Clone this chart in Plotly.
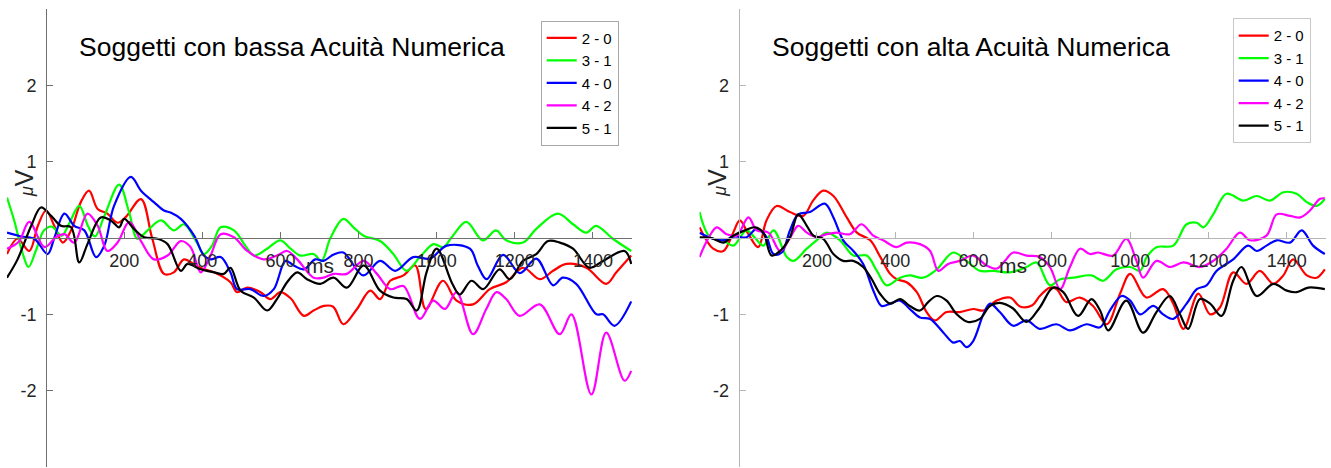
import plotly.graph_objects as go

# ---------------- data (ms, µV) ----------------
NAMES = ["2 - 0", "3 - 1", "4 - 0", "4 - 2", "5 - 1"]
COLORS = ["#ff0000", "#00ff00", "#0000ff", "#ff00ff", "#000000"]
TITLES = ["Soggetti con bassa Acuità Numerica", "Soggetti con alta Acuità Numerica"]
X_TICKS = [200, 400, 600, 800, 1000, 1200, 1400]
Y_TICKS = [-2, -1, 1, 2]

# Left panel (bassa)
L_RED_T = [-100, -73, -43, -21, 0, 21, 43, 64, 89, 110, 132, 157, 183, 205, 243, 272, 302, 327, 353, 380, 400, 430, 472, 489, 515, 549, 574, 600, 626, 660, 685, 711, 735, 761, 796, 830, 855, 881, 915, 945, 972, 1016, 1051, 1093, 1136, 1178, 1221, 1264, 1298, 1332, 1383, 1434, 1460, 1498]
L_RED_V = [-0.21, -0.01, -0.17, 0.16, 0.36, 0.16, -0.06, 0.1, 0.47, 0.62, 0.38, 0.32, 0.2, 0.28, 0.51, -0.01, -0.47, -0.45, -0.28, -0.35, -0.4, -0.45, -0.58, -0.71, -0.65, -0.71, -0.8, -0.71, -0.79, -1.02, -0.95, -0.89, -0.9, -1.13, -0.93, -0.69, -0.8, -0.56, -0.49, -0.36, -0.93, -0.56, -0.82, -0.87, -0.67, -0.58, -0.39, -0.54, -0.43, -0.34, -0.39, -0.6, -0.45, -0.23]

L_GRN_T = [-100, -80, -60, -45, -25, -5, 15, 40, 60, 85, 108, 125, 150, 187, 212, 234, 260, 294, 327, 353, 385, 404, 425, 447, 481, 510, 532, 566, 600, 626, 651, 685, 705, 728, 761, 787, 813, 855, 889, 923, 957, 992, 1017, 1040, 1076, 1118, 1152, 1178, 1221, 1255, 1310, 1349, 1383, 1408, 1451, 1498]
L_GRN_V = [0.53, 0.2, -0.2, -0.38, -0.15, 0.1, 0.15, 0.03, 0.2, 0.42, 0.15, 0.02, 0.3, 0.7, 0.35, -0.01, 0.1, 0.23, 0.1, 0.18, -0.05, -0.21, -0.1, 0.14, 0.1, -0.1, -0.23, -0.14, -0.03, -0.14, -0.23, -0.21, -0.3, 0.0, 0.25, 0.14, 0.03, -0.04, -0.21, -0.43, -0.25, -0.08, -0.12, 0.02, 0.21, -0.03, 0.1, -0.03, -0.06, 0.12, 0.32, 0.18, 0.07, 0.16, -0.01, -0.17]

L_BLU_T = [-100, -64, -30, 4, 21, 47, 72, 98, 128, 149, 174, 217, 243, 276, 302, 320, 345, 379, 404, 421, 447, 472, 489, 523, 557, 583, 613, 634, 660, 689, 710, 735, 761, 812, 855, 894, 940, 983, 1026, 1085, 1105, 1128, 1170, 1213, 1255, 1298, 1323, 1357, 1409, 1426, 1455, 1498]
L_BLU_V = [0.07, 0.02, -0.01, -0.21, 0.0, 0.32, 0.16, 0.1, -0.25, -0.1, 0.42, 0.8, 0.62, 0.47, 0.36, 0.33, 0.25, 0.03, -0.23, -0.28, -0.25, -0.45, -0.67, -0.67, -0.76, -0.67, -0.3, -0.36, -0.41, -0.28, -0.3, -0.22, -0.19, -0.49, -0.3, -0.43, -0.25, -0.27, -0.1, -0.14, -0.36, -0.54, -0.22, -0.46, -0.27, -0.62, -0.52, -0.6, -1.0, -1.0, -1.15, -0.83]

L_MAG_T = [-100, -70, -43, -4, 25, 47, 72, 106, 132, 157, 183, 213, 243, 276, 311, 345, 370, 396, 421, 447, 481, 515, 557, 591, 617, 643, 685, 710, 736, 770, 813, 847, 881, 915, 957, 991, 1021, 1051, 1093, 1127, 1153, 1178, 1212, 1264, 1315, 1345, 1396, 1434, 1481, 1498]
L_MAG_V = [-0.14, -0.05, 0.21, -0.12, 0.01, 0.05, -0.06, 0.32, 0.16, -0.17, -0.06, 0.21, -0.04, -0.28, -0.23, -0.04, -0.12, -0.45, -0.23, 0.05, 0.01, -0.17, -0.28, -0.23, -0.17, -0.28, -0.52, -0.52, -0.47, -0.47, -0.3, -0.47, -0.67, -0.63, -1.06, -0.82, -0.93, -0.71, -1.26, -0.93, -0.71, -0.8, -1.02, -0.87, -1.26, -1.0, -2.05, -1.24, -1.87, -1.74]

L_BLK_T = [-100, -73, -38, -13, 13, 38, 64, 85, 106, 140, 166, 187, 200, 225, 251, 285, 311, 345, 362, 396, 430, 455, 472, 498, 532, 566, 591, 617, 643, 668, 702, 736, 770, 813, 855, 889, 923, 949, 974, 1000, 1040, 1059, 1089, 1119, 1161, 1187, 1221, 1255, 1285, 1315, 1349, 1391, 1426, 1481, 1498]
L_BLK_V = [-0.52, -0.28, 0.16, 0.4, 0.29, 0.16, 0.14, -0.32, -0.08, 0.27, 0.23, 0.14, 0.25, 0.12, 0.01, -0.01, -0.08, -0.43, -0.34, -0.41, -0.45, -0.47, -0.39, -0.69, -0.78, -0.95, -0.8, -0.58, -0.45, -0.54, -0.6, -0.52, -0.65, -0.36, -0.69, -0.78, -0.8, -0.95, -0.45, -0.14, -0.6, -0.74, -0.56, -0.67, -0.41, -0.54, -0.3, -0.21, -0.04, -0.06, -0.14, -0.39, -0.3, -0.17, -0.34]

# Right panel (alta)
R_RED_T = [-100, -65, -39, -14, 3, 25, 50, 71, 97, 131, 165, 190, 216, 242, 276, 302, 336, 362, 387, 404, 429, 455, 480, 501, 531, 565, 599, 625, 659, 693, 720, 750, 769, 795, 812, 837, 871, 905, 940, 974, 1000, 1041, 1084, 1110, 1136, 1174, 1204, 1229, 1263, 1297, 1331, 1365, 1391, 1416, 1451, 1476, 1497]
R_RED_V = [0.14, -0.14, -0.17, 0.07, 0.23, 0.05, -0.12, 0.23, 0.42, 0.34, 0.29, 0.49, 0.62, 0.55, 0.27, 0.07, -0.03, -0.25, -0.47, -0.54, -0.58, -0.71, -0.97, -1.08, -0.97, -0.97, -0.93, -0.95, -0.82, -0.78, -0.9, -0.88, -0.76, -0.65, -0.67, -0.84, -0.78, -0.89, -1.13, -0.73, -0.47, -0.78, -0.67, -0.86, -1.19, -0.73, -1.0, -0.91, -0.45, -0.6, -0.43, -0.6, -0.49, -0.28, -0.49, -0.52, -0.41]

R_GRN_T = [-100, -73, -39, -14, 20, 42, 63, 89, 123, 140, 174, 199, 225, 259, 293, 327, 353, 378, 412, 437, 471, 506, 548, 582, 616, 650, 693, 735, 761, 795, 821, 855, 901, 931, 965, 1000, 1025, 1042, 1067, 1110, 1144, 1170, 1187, 1212, 1246, 1289, 1323, 1357, 1391, 1425, 1451, 1476, 1497]
R_GRN_V = [0.34, 0.01, -0.03, -0.1, 0.1, 0.0, -0.1, 0.1, -0.25, -0.3, -0.14, -0.03, 0.07, -0.03, -0.23, -0.23, -0.43, -0.62, -0.52, -0.49, -0.52, -0.41, -0.19, -0.3, -0.43, -0.43, -0.45, -0.38, -0.32, -0.62, -0.54, -0.52, -0.49, -0.56, -0.41, -0.38, -0.43, -0.25, -0.12, -0.1, 0.18, 0.2, 0.14, 0.31, 0.58, 0.49, 0.55, 0.49, 0.6, 0.58, 0.47, 0.42, 0.51]

R_BLU_T = [-100, -65, -39, -10, 20, 46, 70, 89, 110, 131, 152, 182, 220, 242, 267, 293, 318, 344, 365, 387, 412, 437, 463, 489, 523, 548, 565, 582, 599, 625, 642, 667, 701, 735, 769, 812, 846, 889, 923, 948, 978, 1000, 1025, 1059, 1084, 1110, 1144, 1170, 1195, 1221, 1263, 1301, 1323, 1348, 1374, 1408, 1438, 1467, 1497]
R_BLU_V = [0.07, -0.01, -0.03, 0.02, 0.01, 0.12, 0.02, -0.21, -0.19, 0.1, 0.31, 0.34, 0.45, 0.27, -0.03, -0.17, -0.34, -0.69, -0.89, -0.86, -0.82, -0.93, -1.04, -1.06, -1.24, -1.37, -1.35, -1.43, -1.35, -1.0, -0.86, -0.97, -1.15, -1.08, -1.19, -1.13, -1.21, -1.13, -1.17, -0.95, -0.76, -0.82, -1.0, -0.89, -1.0, -1.06, -0.86, -0.67, -0.62, -0.43, -0.28, -0.1, -0.17, -0.1, -0.03, -0.06, 0.1, -0.1, -0.21]

R_MAG_T = [-100, -77, -56, -31, -5, 25, 46, 76, 106, 131, 152, 174, 199, 225, 250, 284, 314, 344, 369, 403, 429, 463, 489, 510, 535, 565, 599, 633, 660, 680, 701, 735, 769, 795, 821, 846, 872, 897, 918, 956, 990, 1016, 1033, 1067, 1102, 1136, 1178, 1212, 1246, 1280, 1306, 1348, 1374, 1408, 1434, 1459, 1484, 1497]
R_MAG_V = [-0.25, 0.0, 0.14, 0.05, 0.03, 0.27, 0.1, 0.07, -0.17, 0.0, 0.16, 0.07, 0.01, 0.05, 0.07, 0.05, 0.18, 0.03, -0.03, -0.12, -0.06, -0.08, -0.17, -0.43, -0.34, -0.3, -0.23, -0.36, -0.4, -0.3, -0.19, -0.23, -0.25, -0.38, -0.67, -0.38, -0.14, -0.21, -0.19, -0.23, -0.01, -0.3, -0.52, -0.3, -0.38, -0.32, -0.38, -0.3, -0.14, 0.07, -0.03, 0.03, 0.31, 0.29, 0.27, 0.36, 0.51, 0.52]

R_BLK_T = [-100, -70, -39, -14, 16, 42, 63, 84, 106, 131, 152, 174, 191, 216, 242, 267, 293, 318, 340, 361, 387, 412, 437, 463, 484, 506, 531, 557, 586, 616, 642, 667, 700, 735, 769, 803, 829, 867, 901, 923, 944, 990, 1033, 1067, 1101, 1127, 1148, 1178, 1204, 1233, 1263, 1284, 1323, 1366, 1400, 1425, 1455, 1497]
R_BLK_V = [0.01, 0.0, -0.06, 0.03, 0.1, 0.14, 0.07, -0.23, -0.17, 0.01, 0.31, 0.16, 0.03, -0.01, -0.21, -0.3, -0.3, -0.38, -0.54, -0.73, -0.86, -0.8, -0.89, -0.95, -0.84, -0.76, -0.82, -1.0, -1.1, -1.06, -0.89, -0.85, -0.92, -1.1, -0.91, -0.65, -0.71, -1.02, -0.8, -0.95, -1.21, -0.82, -1.24, -0.97, -0.76, -1.0, -1.19, -0.8, -0.86, -1.02, -0.56, -0.38, -0.76, -0.6, -0.69, -0.71, -0.65, -0.67]

LEFT = [(L_RED_T, L_RED_V), (L_GRN_T, L_GRN_V), (L_BLU_T, L_BLU_V), (L_MAG_T, L_MAG_V), (L_BLK_T, L_BLK_V)]
RIGHT = [(R_RED_T, R_RED_V), (R_GRN_T, R_GRN_V), (R_BLU_T, R_BLU_V), (R_MAG_T, R_MAG_V), (R_BLK_T, R_BLK_V)]

# ---------------- layout geometry ----------------
W, H = 1331, 468
XR = [-100, 1500]
YR = [-3, 3]
FONT = "Liberation Sans, Arial, Helvetica, sans-serif"
XDOM = [[7 / W, 632 / W], [699.5 / W, 1326 / W]]
YDOM = [1 - 467 / H, 1 - 9 / H]
AXCOL = ["#707070", "#b5b5b5"]

fig = go.Figure()

for p, (panel, xa, ya, lg) in enumerate([(LEFT, "x", "y", "legend"), (RIGHT, "x2", "y2", "legend2")]):
    for (t, v), name, col in zip(panel, NAMES, COLORS):
        fig.add_trace(go.Scatter(
            x=t, y=v, name=name, mode="lines",
            line=dict(color=col, width=2.2, shape="spline", smoothing=1.0),
            xaxis=xa, yaxis=ya, legend=lg, hoverinfo="skip"))

ymid = (YDOM[0] + YDOM[1]) / 2
for p in range(2):
    sfx = "" if p == 0 else str(p + 1)
    d = XDOM[p]
    ypos = d[0] + (0 - XR[0]) / (XR[1] - XR[0]) * (d[1] - d[0])
    fig.layout["xaxis" + sfx] = dict(
        domain=d, range=XR, anchor="free", position=ymid,
        showline=True, linecolor=AXCOL[p], linewidth=1,
        ticks="inside", ticklen=6, tickcolor=AXCOL[p],
        tickvals=X_TICKS, ticktext=[str(v) for v in X_TICKS],
        tickfont=dict(family=FONT, size=18, color="#262626"),
        ticklabelstandoff=6,
        showgrid=False, zeroline=False, fixedrange=True)
    fig.layout["yaxis" + sfx] = dict(
        domain=YDOM, range=YR, anchor="free", position=ypos,
        showline=True, linecolor=AXCOL[p], linewidth=1,
        ticks="inside", ticklen=6, tickcolor=AXCOL[p],
        tickvals=Y_TICKS, ticktext=[str(v) for v in Y_TICKS],
        tickfont=dict(family=FONT, size=18, color="#262626"),
        ticklabelstandoff=6,
        showgrid=False, zeroline=False, fixedrange=True)

annotations = []
for p in range(2):
    sfx = "" if p == 0 else str(p + 1)
    annotations.append(dict(
        x=80, y=2.5, xref="x" + sfx, yref="y" + sfx, text=TITLES[p],
        showarrow=False, xanchor="left", yanchor="middle",
        font=dict(family=FONT, size=26.5, color="#000000")))
    annotations.append(dict(
        x=700, y=-0.36, xref="x" + sfx, yref="y" + sfx, text="ms",
        showarrow=False, xanchor="center", yanchor="middle",
        font=dict(family=FONT, size=21, color="#262626")))
    annotations.append(dict(
        x=0, y=0.72, xref="x" + sfx, yref="y" + sfx,
        text="<i><span style='font-size:18px'>μ</span></i>V",
        showarrow=False, xanchor="center", yanchor="middle", xshift=-22,
        textangle=-90,
        font=dict(family=FONT, size=25, color="#262626")))

fig.update_layout(
    width=W, height=H,
    margin=dict(l=0, r=0, t=0, b=0),
    paper_bgcolor="white", plot_bgcolor="white",
    showlegend=True,
    annotations=annotations,
    legend=dict(x=540.7 / W, y=1 - 20.7 / H, xanchor="left", yanchor="top",
                bgcolor="white", bordercolor="#a8a8a8", borderwidth=1,
                font=dict(family=FONT, size=15, color="#000000"),
                tracegroupgap=0, itemwidth=30),
    legend2=dict(x=1232.7 / W, y=1 - 18.3 / H, xanchor="left", yanchor="top",
                 bgcolor="white", bordercolor="#c8c8c8", borderwidth=1,
                 font=dict(family=FONT, size=15, color="#000000"),
                 tracegroupgap=0, itemwidth=30),
)

fig.write_html("out.html")
